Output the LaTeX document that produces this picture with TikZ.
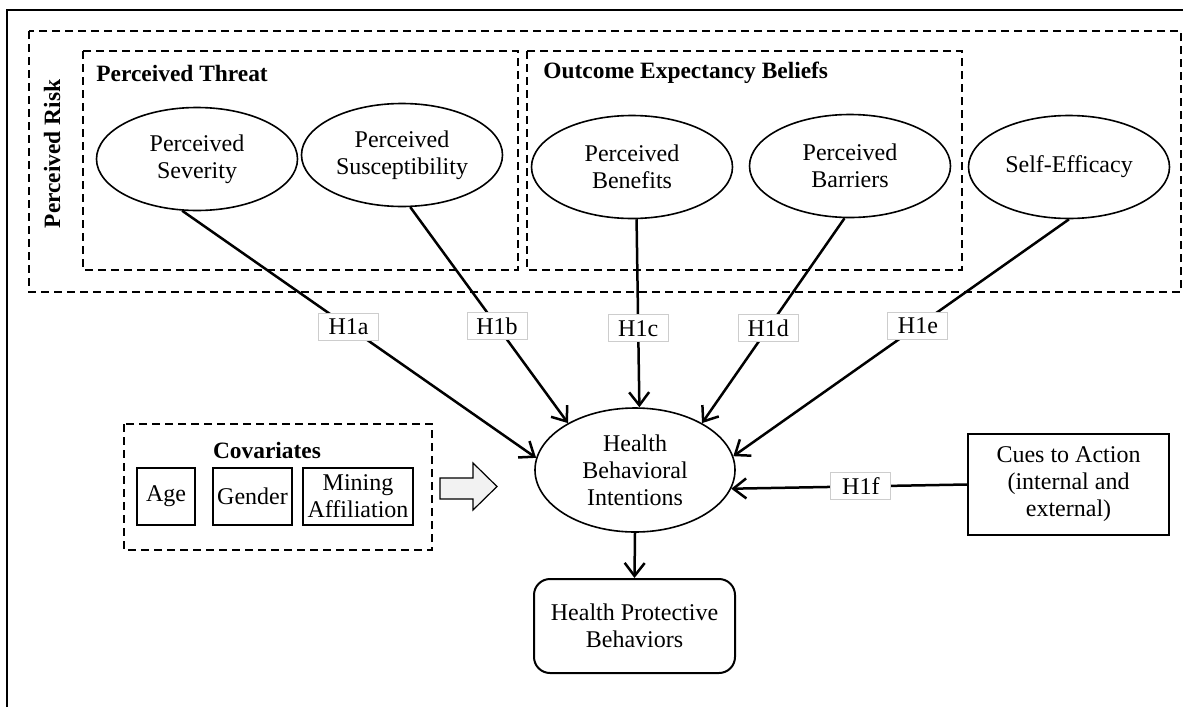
\documentclass[tikz,border=0pt]{standalone}
\usepackage{fontspec}
\setmainfont{Liberation Serif}
\usepackage{tikz}
\usetikzlibrary{positioning, arrows.meta, shapes.geometric}
\definecolor{labelgray}{RGB}{205,205,205}
\definecolor{arrowfill}{RGB}{242,242,242}
\tikzset{
  construct/.style={
    ellipse, draw, line width=0.8pt, minimum width=100.5pt,
    minimum height=51.5pt, inner sep=0pt, align=center,
    font=\fontsize{12}{13.5}\selectfont
  },
  every edge/.style={draw, -{Straight Barb[length=6.5pt, width=10pt]}, line width=1.25pt},
  hyp/.style={draw=labelgray, line width=0.5pt, fill=white, minimum width=30pt,
    minimum height=13.5pt, inner sep=1pt, font=\fontsize{12}{13.5}\selectfont},
  varbox/.style={rectangle, draw, line width=1pt, align=center, inner sep=1pt,
    minimum height=28.5pt, font=\fontsize{12}{13.5}\selectfont},
  groupbox/.style={draw, line width=0.9pt, dash pattern=on 4pt off 2.5pt},
  heading/.style={font=\fontsize{11.7}{13}\selectfont\bfseries, inner sep=0pt},
}
\begin{document}
\begin{tikzpicture}[x=0.5pt, y=-0.5pt, node distance=8pt]
  \useasboundingbox (0,0) rectangle (1183,707);
  % frame
  \draw[line width=1.3pt] (7,707) -- (7,10) -- (1183,10);
  % dashed groups
  \draw[groupbox] (29,31) rectangle (1181,292);
  \draw[groupbox] (83,51) rectangle (518,270);
  \draw[groupbox] (527,51) rectangle (962,270);
  \draw[groupbox] (124,424) rectangle (432,550);
  \node[heading, rotate=90] (risk) at (52,154) {Perceived Risk};
  \node[heading, anchor=west] (threat) at (96,73) {Perceived Threat};
  \node[heading, anchor=west] (outcome) at (543,73) {Outcome Expectancy Beliefs};
  \node[heading] (covar) at (267,450) {Covariates};

  % constructs
  \node[construct] (sev) at (197,159) {Perceived\\Severity};
  \node[construct] (sus) at (402,155) {Perceived\\Susceptibility};
  \node[construct] (ben) at (632,167) {Perceived\\Benefits};
  \node[construct] (bar) at (850,166) {Perceived\\Barriers};
  \node[construct] (eff) at (1069,167) {Self-Efficacy};
  \node[construct, minimum width=100pt, minimum height=62pt] (hbi) at (635,470)
    {Health\\Behavioral\\Intentions};
  \node[varbox, rounded corners=8pt, minimum width=100.5pt, minimum height=47pt]
    (hpb) at (634.5,626) {Health Protective\\Behaviors};
  \node[varbox, minimum width=100.5pt, minimum height=50.5pt] (cues) at (1068.5,484.5)
    {Cues to Action\\(internal and\\external)};

  % covariates
  \node[varbox, minimum width=29pt] (age) at (166,496.5) {Age};
  \node[varbox, minimum width=39.5pt, right=8pt of age] (gender) {Gender};
  \node[varbox, minimum width=55pt, right=4.5pt of gender] (mining) {Mining\\Affiliation};
  \draw[line width=0.6pt, fill=arrowfill] (440,478) -- (473,478) -- (473,463)
    -- (497,486.5) -- (473,510) -- (473,499) -- (440,499) -- cycle;

  \path (sev.254) edge node[hyp, pos=0.47] {H1a} (hbi.173)
        (sus.279) edge node[hyp, pos=0.55] {H1b} (hbi.145)
        (ben.275) edge node[hyp, pos=0.58] {H1c} (hbi.86)
        (bar.264) edge node[hyp, pos=0.535] {H1d} (hbi.35)
        (eff.south) edge node[hyp, pos=0.45] {H1e} (hbi.8)
        (cues.west) edge node[hyp, pos=0.45] {H1f} (hbi.349)
        (hbi.south) edge (hpb.north);
\end{tikzpicture}
\end{document}
